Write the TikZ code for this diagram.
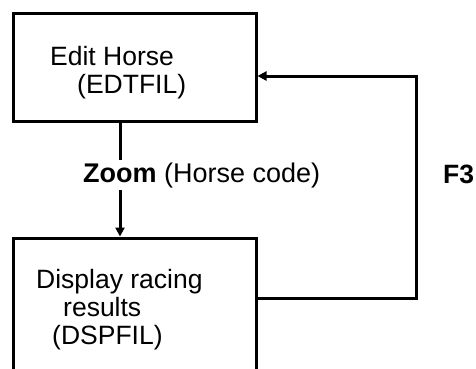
\documentclass[tikz,border=0pt]{standalone}
\usepackage{fontspec}
\setmainfont{Liberation Sans}
\usetikzlibrary{arrows.meta}
\begin{document}
\begin{tikzpicture}[x=1pt,y=-1pt,
  box/.style={draw=black,line width=3pt,rectangle,inner sep=0pt},
  txt/.style={anchor=base west,inner sep=0pt,font=\fontsize{26.5}{30}\selectfont},
  arr/.style={line width=3pt,-{Triangle[length=9pt,width=9pt]}},
  lbl/.style={inner xsep=0pt,inner ysep=2pt,fill=white,anchor=base west,font=\fontsize{27}{30}\selectfont}]
\clip (0,0) rectangle (476,368);
\fill[white] (0,0) rectangle (476,368);
\node[box,minimum width=243pt,minimum height=108pt] (top) at (134.5,67) {};
\node[box,minimum width=243pt,minimum height=170pt] (bot) at (134.5,323) {};
\node[txt] (t1) at (50,65) {Edit Horse};
\node[txt] (t2) at (77,93) {(EDTFIL)};
\node[txt] (b1) at (36,288) {Display racing};
\node[txt] (b2) at (63,316) {results};
\node[txt] (b3) at (52,344) {(DSPFIL)};
\coordinate (zx) at (120,0);
\draw[arr] (top.south -| zx) -- (bot.north -| zx);
\node[lbl] (zoom) at (83,182) {\textbf{Zoom} (Horse code)};
\coordinate (f1) at (416,298);
\coordinate (f2) at (416,76);
\draw[arr] (bot.east |- f1) -- (f1) -- (f2) -- (top.east |- f2);
\node[txt,font=\fontsize{26.5}{30}\selectfont\bfseries] (f3) at (443,183) {F3};
\end{tikzpicture}
\end{document}
